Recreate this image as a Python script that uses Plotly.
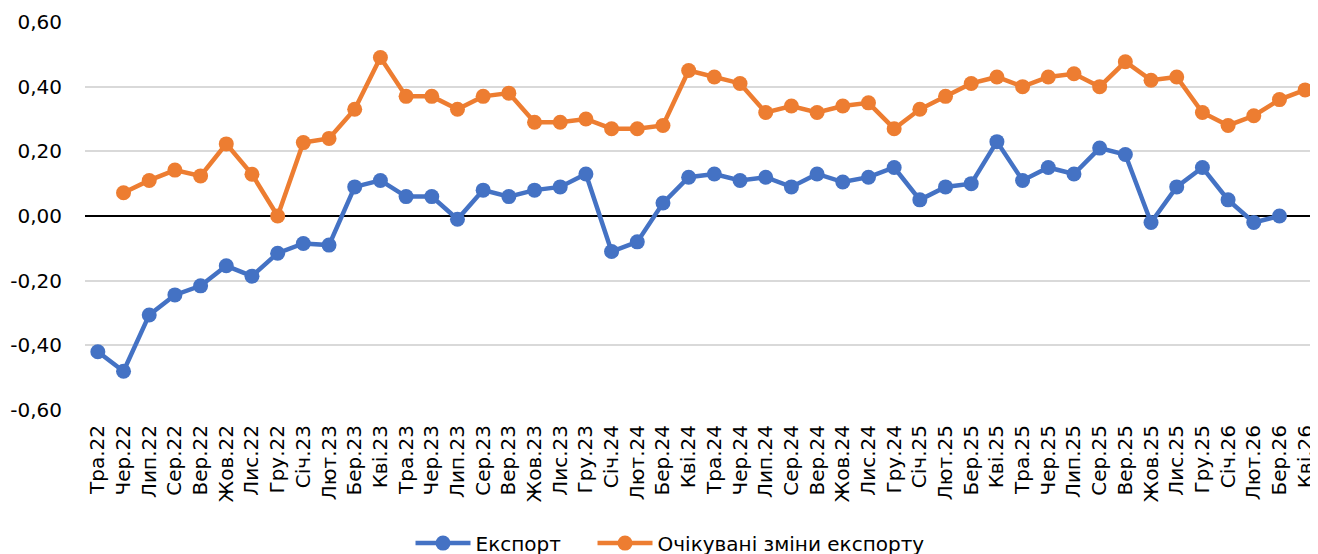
import plotly.graph_objects as go

categories = ["Тра.22", "Чер.22", "Лип.22", "Сер.22", "Вер.22", "Жов.22", "Лис.22", "Гру.22",
              "Січ.23", "Лют.23", "Бер.23", "Кві.23", "Тра.23", "Чер.23", "Лип.23", "Сер.23",
              "Вер.23", "Жов.23", "Лис.23", "Гру.23", "Січ.24", "Лют.24", "Бер.24", "Кві.24",
              "Тра.24", "Чер.24", "Лип.24", "Сер.24", "Вер.24", "Жов.24", "Лис.24", "Гру.24",
              "Січ.25", "Лют.25", "Бер.25", "Кві.25", "Тра.25", "Чер.25", "Лип.25", "Сер.25",
              "Вер.25", "Жов.25", "Лис.25", "Гру.25", "Січ.26", "Лют.26", "Бер.26", "Кві.26"]

export = [-0.42, -0.48, -0.306, -0.244, -0.216, -0.154, -0.186, -0.115,
          -0.085, -0.09, 0.09, 0.11, 0.06, 0.06, -0.01, 0.08,
          0.06, 0.08, 0.09, 0.13, -0.11, -0.08, 0.04, 0.12,
          0.13, 0.11, 0.12, 0.09, 0.13, 0.105, 0.12, 0.15,
          0.05, 0.09, 0.10, 0.23, 0.11, 0.15, 0.13, 0.21,
          0.19, -0.02, 0.09, 0.15, 0.05, -0.02, 0.00, None]

expected = [None, 0.072, 0.11, 0.142, 0.124, 0.223, 0.129, 0.00,
            0.227, 0.24, 0.33, 0.49, 0.37, 0.37, 0.33, 0.37,
            0.38, 0.29, 0.29, 0.30, 0.27, 0.27, 0.28, 0.45,
            0.43, 0.41, 0.32, 0.34, 0.32, 0.34, 0.35, 0.27,
            0.33, 0.37, 0.41, 0.43, 0.40, 0.43, 0.44, 0.40,
            0.477, 0.42, 0.43, 0.32, 0.28, 0.31, 0.36, 0.39]

y_ticks = [-0.6, -0.4, -0.2, 0.0, 0.2, 0.4, 0.6]
y_labels = [f"{v:.2f}".replace(".", ",") for v in y_ticks]

blue = "#4472C4"
orange = "#ED7D31"
font = "DejaVu Sans"

fig = go.Figure()
fig.add_trace(go.Scatter(x=categories, y=export, name="Експорт", mode="lines+markers",
                         line=dict(color=blue, width=4.5), marker=dict(color=blue, size=15),
                         legendwidth=112))
fig.add_trace(go.Scatter(x=categories, y=expected, name="Очікувані зміни експорту", mode="lines+markers",
                         line=dict(color=orange, width=4.5), marker=dict(color=orange, size=15),
                         legendwidth=300))

fig.update_layout(
    width=1310, height=570,
    margin=dict(l=77, r=0, t=14, b=168),
    paper_bgcolor="white", plot_bgcolor="white",
    font=dict(family=font, size=20, color="#000000"),
    showlegend=True,
    legend=dict(orientation="h", x=0.264, xanchor="left", y=-0.343, yanchor="middle",
                font=dict(family=font, size=20), itemwidth=55,
                bgcolor="rgba(0,0,0,0)"),
    xaxis=dict(type="category", tickangle=-90, showgrid=False, showline=False,
               ticks="", tickfont=dict(size=20), range=[-0.5, 47.5], ticklabelstandoff=10),
    yaxis=dict(range=[-0.6, 0.6], tickvals=y_ticks, ticktext=y_labels,
               showgrid=True, gridcolor="#D9D9D9", gridwidth=1.5,
               zeroline=True, zerolinecolor="#000000", zerolinewidth=1.5,
               showline=False, ticks="", tickfont=dict(size=20), ticklabelstandoff=22),
)

fig.write_html("out.html")
